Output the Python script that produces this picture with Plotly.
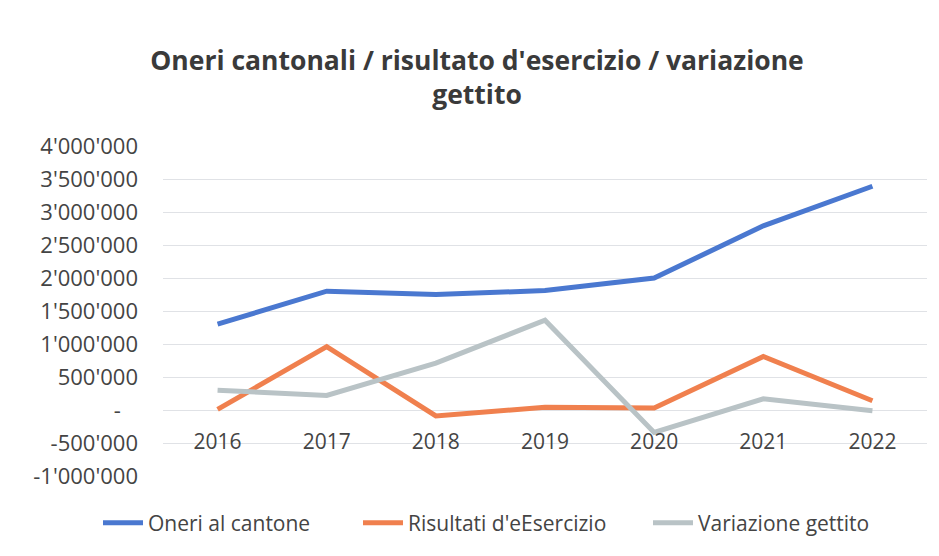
import plotly.graph_objects as go

years = ["2016", "2017", "2018", "2019", "2020", "2021", "2022"]
oneri_cantone = [1300000, 1800000, 1750000, 1810000, 2000000, 2790000, 3390000]
risultati_esercizio = [10000, 960000, -90000, 40000, 30000, 810000, 140000]
variazione_gettito = [300000, 220000, 710000, 1360000, -340000, 170000, -10000]

y_tickvals = [-1000000, -500000, 0, 500000, 1000000, 1500000, 2000000, 2500000, 3000000, 3500000, 4000000]
y_ticktext = ["-1'000'000", "-500'000", "-\u00a0\u00a0\u00a0", "500'000", "1'000'000", "1'500'000",
              "2'000'000", "2'500'000", "3'000'000", "3'500'000", "4'000'000"]

# page body has an 8px default margin; the figure is sized/offset to compensate
W, H, OFF = 931, 548, 8
FONT = "Open Sans"
TXT = "#444444"
fig = go.Figure()
fig.add_trace(go.Scatter(x=years, y=oneri_cantone, mode="lines", name="Oneri al cantone",
                         line=dict(color="#4a78d0", width=5), legend="legend"))
fig.add_trace(go.Scatter(x=years, y=risultati_esercizio, mode="lines", name="Risultati d'eEsercizio",
                         line=dict(color="#f0804e", width=5), legend="legend2"))
fig.add_trace(go.Scatter(x=years, y=variazione_gettito, mode="lines", name="Variazione gettito",
                         line=dict(color="#b9c3c6", width=5), legend="legend3"))


def leg(xpix):
    return dict(orientation="h", xref="container", yref="container",
                x=(xpix - OFF) / W, xanchor="left", y=1 - (523 - OFF) / H, yanchor="middle",
                font=dict(family=FONT, size=21, color=TXT), itemwidth=40,
                bgcolor="rgba(0,0,0,0)")


fig.update_layout(
    width=W, height=H,
    paper_bgcolor="white", plot_bgcolor="white",
    margin=dict(l=163 - OFF, r=939 - 927, t=146 - OFF, b=556 - 476, autoexpand=False),
    font=dict(family=FONT, color=TXT),
    title=dict(text="Oneri cantonali / risultato d'esercizio / variazione<br>gettito",
               x=(477 - OFF) / W, xref="container", xanchor="center",
               y=1 - (70 - OFF) / H, yref="container", yanchor="top",
               font=dict(family=FONT, size=26.5, color="#3a3a3a", weight="bold")),
    showlegend=True,
    legend=leg(98),
    legend2=leg(358),
    legend3=leg(648),
    xaxis=dict(type="category", range=[-0.5, 6.5], anchor="free", position=0.2, showgrid=False,
               showline=False, ticks="", ticklabelstandoff=17, automargin=False,
               tickfont=dict(family=FONT, size=21, color=TXT)),
    yaxis=dict(range=[-1000000, 4000000], tickvals=y_tickvals, ticktext=y_ticktext,
               showgrid=True, gridcolor="#e0e2e6", gridwidth=1, zeroline=False,
               showline=False, ticks="", ticklabelstandoff=24, automargin=False,
               tickfont=dict(family=FONT, size=22, color=TXT)),
)

fig.write_html("out.html")
